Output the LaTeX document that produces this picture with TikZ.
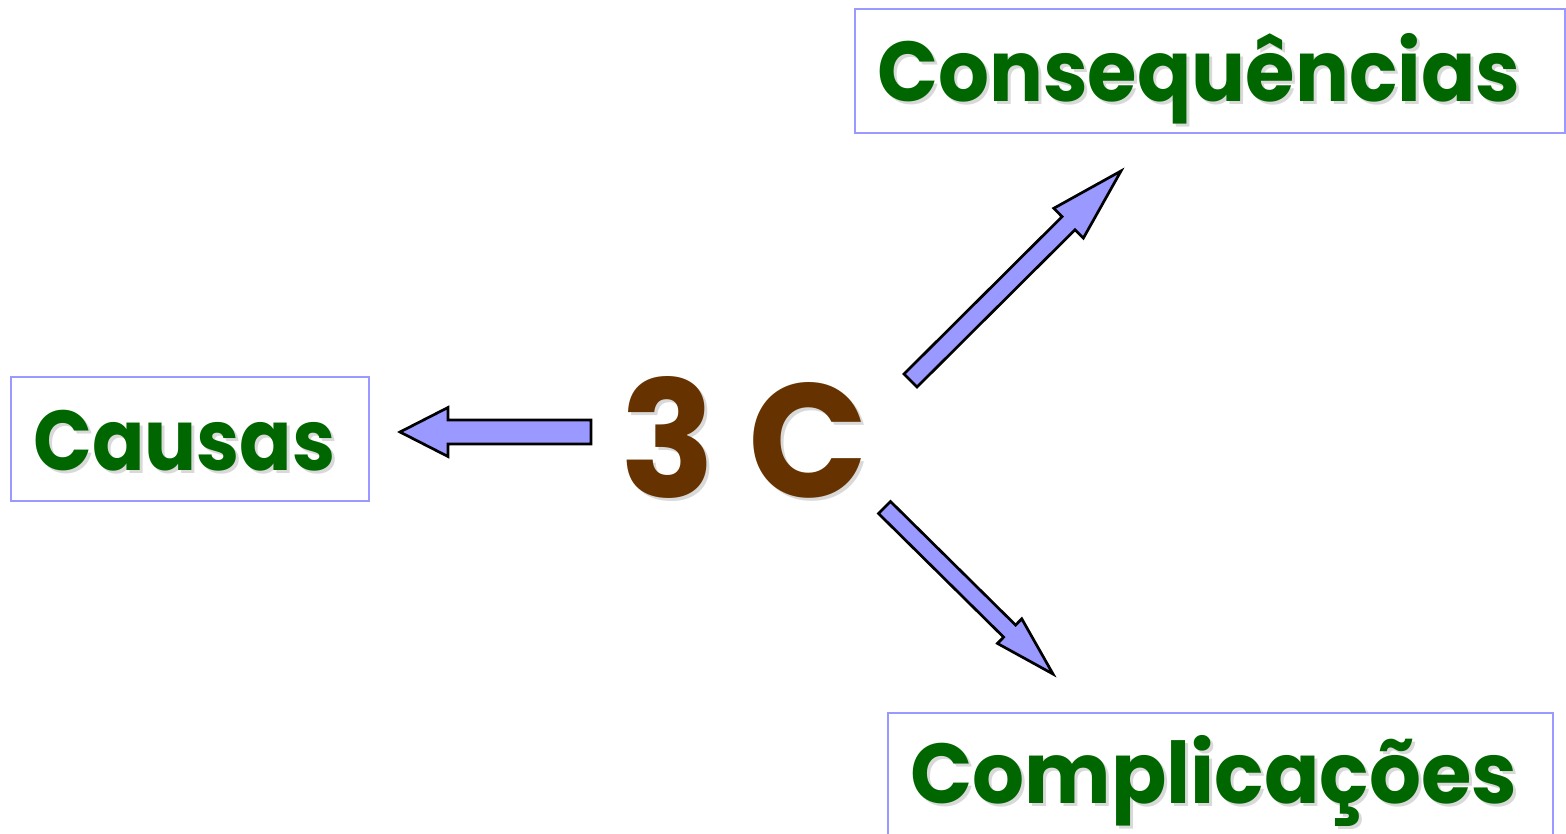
\documentclass[tikz,border=0pt]{standalone}
\usepackage{fontspec}
\usepackage{graphicx}
\setmainfont{Poppins}
\usetikzlibrary{calc}
\definecolor{boxblue}{HTML}{9999FF}
\definecolor{txtgreen}{HTML}{006600}
\definecolor{txtbrown}{HTML}{663300}
\newcommand\fitw[2]{\resizebox{#1}{\height}{#2}}
\tikzset{
  box/.style={draw=boxblue, line width=2pt, rectangle, inner sep=0pt},
  lbl/.style={anchor=base west, inner sep=0pt, text=txtgreen, font=\fontsize{85}{90}\selectfont\bfseries},
  lblshadow/.style={lbl, text=black!15},
  big/.style={anchor=base west, inner sep=0pt, text=txtbrown, font=\fontsize{162}{170}\selectfont\bfseries},
  bigshadow/.style={big, text=black!15},
  barrow/.style={fill=boxblue, draw=black, line width=2.7pt, line join=miter}
}
\newcommand\blockarr[5]{% tail, tip, shaft half, head half, head length
  \coordinate (#1-h) at ($(#2)!#5!(#1)$);
  \draw[barrow] ($(#1)!#3!90:(#2)$) -- ($(#1-h)!#3!-90:(#1)$) -- ($(#1-h)!#4!-90:(#1)$) -- (#2)
    -- ($(#1-h)!#4!90:(#1)$) -- ($(#1-h)!#3!90:(#1)$) -- ($(#1)!#3!-90:(#2)$) -- cycle;
}
\begin{document}
\begin{tikzpicture}[x=1pt, y=-1pt]
\useasboundingbox (0,0) rectangle (1566,834);
% boxes
\node[box, minimum width=358, minimum height=124] (causasbox) at (190,439) {};
\node[box, minimum width=710, minimum height=124] (consbox) at (1210,71) {};
\node[box, minimum width=665, minimum height=124] (compbox) at (1220.5,775) {};
% shadows
\node[lblshadow] (causasS) at (36,473) {\fitw{302pt}{Causas}};
\node[lblshadow] (consS) at (880,105) {\fitw{643pt}{Consequências}};
\node[lblshadow] (compS) at (913,806) {\fitw{607pt}{Complicações}};
\node[bigshadow] (threecS) at (623,500) {\fitw{248pt}{3 C}};
% texts
\node[lbl] (causas) at (33,470) {\fitw{302pt}{Causas}};
\node[lbl] (cons) at (877,102) {\fitw{643pt}{Consequências}};
\node[lbl] (comp) at (910,803) {\fitw{607pt}{Complicações}};
\node[big] (threec) at (620,497) {\fitw{248pt}{3 C}};
% arrows
\coordinate (la-t) at (591,432);
\coordinate (la-p) at (400,432);
\blockarr{la-t}{la-p}{12pt}{24.5pt}{48pt}
\coordinate (ua-t) at (910.5,380.5);
\coordinate (ua-p) at (1121,171);
\blockarr{ua-t}{ua-p}{9.2pt}{21pt}{74pt}
\coordinate (da-t) at (884.5,507.5);
\coordinate (da-p) at (1053,674);
\blockarr{da-t}{da-p}{8.5pt}{17.3pt}{61pt}
\end{tikzpicture}
\end{document}
